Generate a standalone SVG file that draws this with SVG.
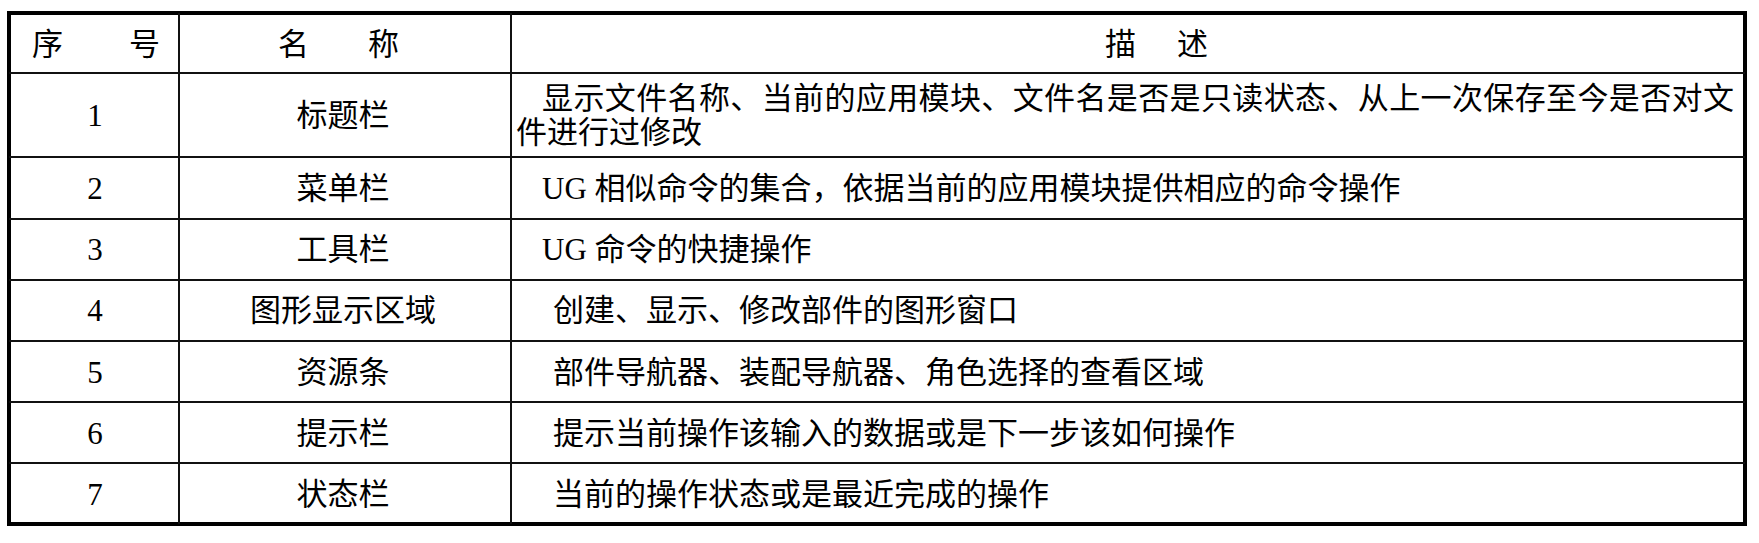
<svg xmlns="http://www.w3.org/2000/svg" width="1759" height="543" viewBox="0 0 1759 543">
<style>
.t{font-family:"Liberation Serif","Noto Sans CJK SC",serif;font-size:31px;fill:#000;dominant-baseline:central}
.c{text-anchor:middle}
.g{stroke:#111;stroke-width:2;fill:none}
</style>
<rect width="1759" height="543" fill="#fff"/>
<g id="grid">
<rect x="9" y="13" width="1736" height="511" fill="none" stroke="#000" stroke-width="4"/>
<line class="g" x1="179" y1="13" x2="179" y2="524"/>
<line class="g" x1="511" y1="13" x2="511" y2="524"/>
<line class="g" x1="9" y1="73" x2="1745" y2="73"/>
<line class="g" x1="9" y1="157" x2="1745" y2="157"/>
<line class="g" x1="9" y1="219" x2="1745" y2="219"/>
<line class="g" x1="9" y1="280" x2="1745" y2="280"/>
<line class="g" x1="9" y1="341" x2="1745" y2="341"/>
<line class="g" x1="9" y1="402" x2="1745" y2="402"/>
<line class="g" x1="9" y1="463" x2="1745" y2="463"/>
</g>
<g id="header">
<text class="t" x="32" y="44">序</text><text class="t" x="129" y="44">号</text>
<text class="t" x="278" y="44">名</text><text class="t" x="368" y="44">称</text>
<text class="t" x="1105" y="44">描</text><text class="t" x="1177" y="44">述</text>
</g>
<g id="r1"><text class="t c" x="95" y="115">1</text><text class="t c" x="343" y="115">标题栏</text>
<text class="t" x="542" y="98" textLength="1192" lengthAdjust="spacing">显示文件名称、当前的应用模块、文件名是否是只读状态、从上一次保存至今是否对文</text>
<text class="t" x="516" y="132">件进行过修改</text></g>
<g id="r2"><text class="t c" x="95" y="188">2</text><text class="t c" x="343" y="188">菜单栏</text><text class="t" x="542" y="188">UG 相似命令的集合，依据当前的应用模块提供相应的命令操作</text></g>
<g id="r3"><text class="t c" x="95" y="249">3</text><text class="t c" x="343" y="249">工具栏</text><text class="t" x="542" y="249">UG 命令的快捷操作</text></g>
<g id="r4"><text class="t c" x="95" y="310">4</text><text class="t c" x="343" y="310">图形显示区域</text><text class="t" x="553" y="310">创建、显示、修改部件的图形窗口</text></g>
<g id="r5"><text class="t c" x="95" y="372">5</text><text class="t c" x="343" y="372">资源条</text><text class="t" x="553" y="372">部件导航器、装配导航器、角色选择的查看区域</text></g>
<g id="r6"><text class="t c" x="95" y="433">6</text><text class="t c" x="343" y="433">提示栏</text><text class="t" x="553" y="433">提示当前操作该输入的数据或是下一步该如何操作</text></g>
<g id="r7"><text class="t c" x="95" y="494">7</text><text class="t c" x="343" y="494">状态栏</text><text class="t" x="553" y="494">当前的操作状态或是最近完成的操作</text></g>
</svg>
